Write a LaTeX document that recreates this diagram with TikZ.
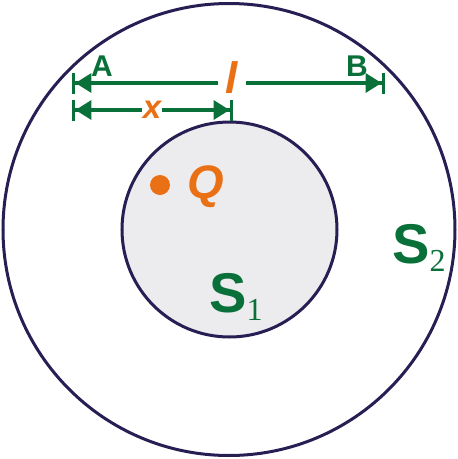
\documentclass[tikz,border=0pt]{standalone}
\usepackage{fontspec}
\setmainfont{Liberation Sans}
\newfontfamily\subfont{Liberation Serif}
\usetikzlibrary{arrows.meta}
\definecolor{dimgreen}{RGB}{10,112,58}
\definecolor{qorange}{RGB}{234,112,22}
\definecolor{rimnavy}{RGB}{40,30,84}
\definecolor{coregray}{RGB}{236,236,239}
\tikzstyle{every node}=[inner sep=0pt]
\tikzstyle{rim} = [draw=rimnavy, line width=3pt]
\tikzstyle{dim} = [draw=dimgreen, line width=3.4pt]
\tikzstyle{tipstart} = [{Bar[width=21pt,sep=0pt]Triangle[length=16pt,width=19pt,sep=0pt]}-]
\tikzstyle{tipend} = [-{Triangle[length=16pt,width=19pt,sep=0pt]Bar[width=21pt,sep=0pt]}]
\tikzstyle{endlabel} = [text=dimgreen, font=\fontsize{30}{30}\selectfont\bfseries]
\tikzstyle{varlabel} = [text=qorange, font=\fontsize{44}{44}\selectfont\bfseries\itshape]
\tikzstyle{surface} = [text=dimgreen, anchor=base, font=\fontsize{56}{56}\selectfont\bfseries]
\newcommand{\sub}[1]{\raisebox{-8pt}{\fontsize{32}{32}\selectfont\subfont\mdseries #1}}

\begin{document}
\begin{tikzpicture}[x=1pt, y=-1pt]
    \useasboundingbox (0,0) rectangle (458,459);
    % Place surfaces
    \draw [rim] (229,229.5) circle (226pt);
    \draw [rim, fill=coregray] (229.5,229.5) circle (107.5pt);
    % Place nodes
    \coordinate (aend) at (72,83);
    \coordinate (bend) at (385,83);
    \coordinate (xstart) at (72,110);
    \coordinate (xend) at (233,110);
    \node [endlabel] (A) at (102,66) {A};
    \node [endlabel] (B) at (357,66) {B};
    \node [varlabel, inner xsep=8pt] (l) at (232,78) {l};
    \node [varlabel, font=\fontsize{33}{33}\selectfont\bfseries\itshape, inner xsep=0.5pt] (x) at (152,110) {x};
    \node [circle, fill=qorange, minimum size=20pt] (q) at (160,185) {};
    \node [varlabel, font=\fontsize{47}{47}\selectfont\bfseries\itshape] (Q) at (206,187) {Q};
    \node [surface] (S1) at (236,312) {S\sub{1}};
    \node [surface] (S2) at (419,263) {S\sub{2}};
    % Draw edges
    \path [dim, tipstart] (aend) -- (aend -| l.west);
    \path [dim, tipend] (l.east |- bend) -- (bend);
    \path [dim, tipstart] (xstart) -- (xstart -| x.west);
    \path [dim, tipend] (x.east |- xend) -- (xend);
\end{tikzpicture}
\end{document}
